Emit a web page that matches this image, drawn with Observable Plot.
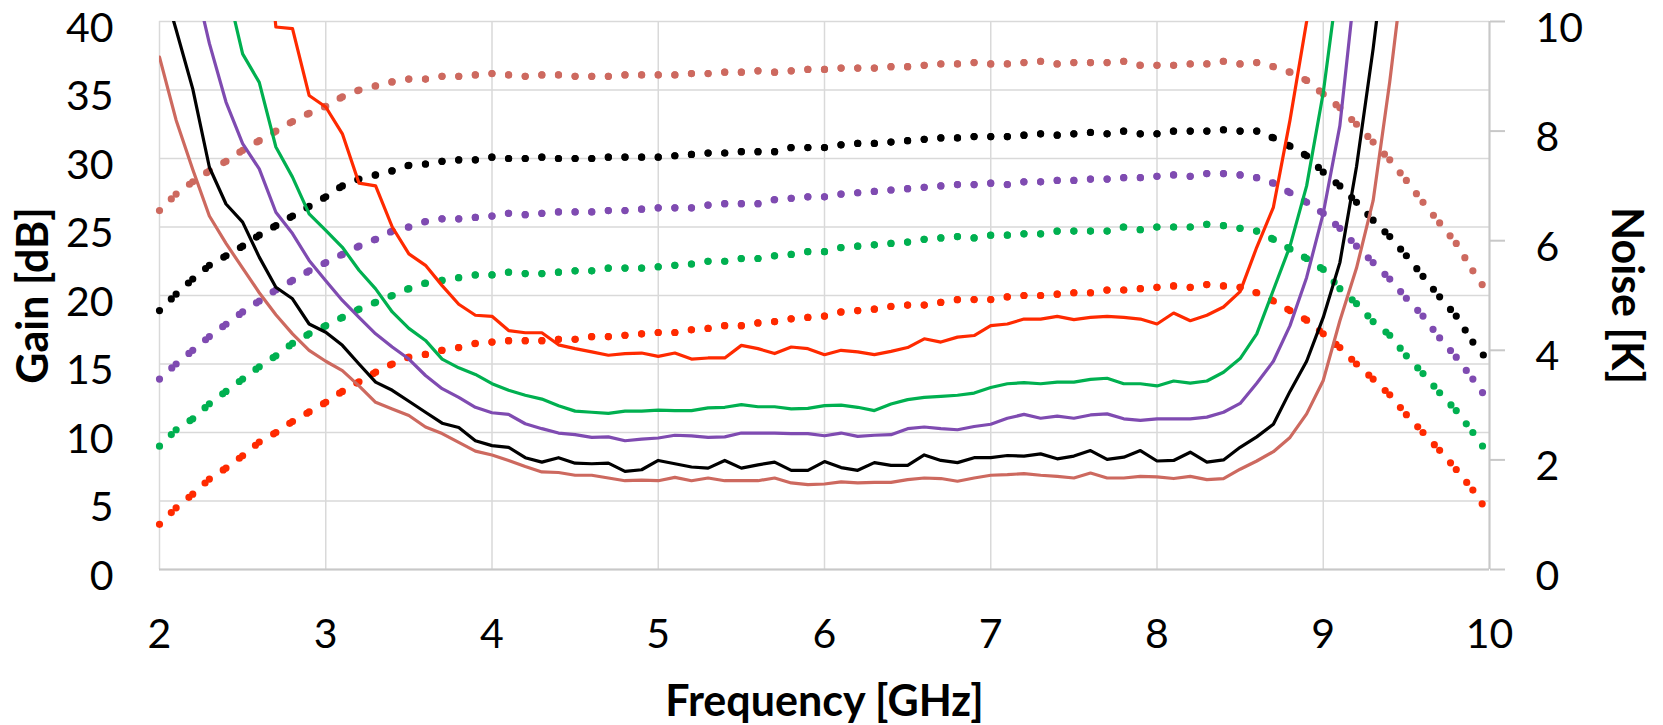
<!DOCTYPE html>
<html>
<head>
<meta charset="utf-8">
<script src="https://cdn.jsdelivr.net/npm/d3@7"></script>
<script src="https://cdn.jsdelivr.net/npm/@observablehq/plot@0.6"></script>
<style>
  html, body { margin: 0; padding: 0; background: #fff; }
  #chart svg { display: block; }
</style>
</head>
<body>
<div id="chart"></div>
<script>
// Frequency sweep, 2–10 GHz in 0.1 GHz steps
const frequencies = d3.range(81).map(i => Math.round((2 + i * 0.1) * 10) / 10);

// Axis ticks
const freqTicks = [2, 3, 4, 5, 6, 7, 8, 9, 10];
const gainTicks = [0, 5, 10, 15, 20, 25, 30, 35, 40];
const noiseTicks = [0, 2, 4, 6, 8, 10];

// Series colours (one per bias setting)
const seriesColors = ["#cd695f", "#000000", "#7f4bb1", "#00b050", "#ff2a00"];

// Gain [dB]
const gainRosy = [
  26.2, 27.4, 28.3, 29.1, 29.8, 30.6, 31.3, 32.0, 32.7, 33.3,
  33.8, 34.5, 35.0, 35.3, 35.6, 35.8, 35.8, 36.0, 36.0, 36.1,
  36.2, 36.1, 36.0, 36.1, 36.1, 36.0, 36.0, 36.0, 36.1, 36.1,
  36.1, 36.1, 36.2, 36.2, 36.3, 36.3, 36.4, 36.3, 36.4, 36.5,
  36.5, 36.6, 36.6, 36.6, 36.7, 36.7, 36.8, 36.9, 36.9, 37.0,
  36.9, 36.9, 37.0, 37.1, 36.9, 37.0, 37.0, 37.0, 37.1, 36.8,
  36.8, 36.8, 36.9, 36.9, 37.1, 36.9, 37.0, 36.7, 36.3, 35.7,
  34.7, 33.7, 32.5, 31.2, 29.9, 28.4, 26.8, 25.3, 23.8, 21.8,
  20.0
];
const gainBlack = [
  18.9, 20.1, 21.2, 22.2, 22.9, 23.6, 24.4, 25.1, 25.8, 26.5,
  27.2, 28.0, 28.5, 28.8, 29.1, 29.5, 29.6, 29.8, 29.9, 29.9,
  30.1, 30.0, 30.0, 30.1, 30.0, 30.0, 30.0, 30.1, 30.1, 30.1,
  30.1, 30.2, 30.3, 30.4, 30.4, 30.5, 30.5, 30.5, 30.8, 30.8,
  30.8, 31.0, 31.1, 31.1, 31.2, 31.3, 31.4, 31.5, 31.5, 31.6,
  31.6, 31.6, 31.7, 31.8, 31.7, 31.8, 31.9, 31.8, 32.0, 31.8,
  31.8, 32.0, 32.0, 32.0, 32.1, 32.0, 32.0, 31.5, 30.9, 30.2,
  29.0, 28.0, 26.8, 25.5, 24.3, 22.9, 21.4, 19.9, 18.5, 16.6,
  15.1
];
const gainPurple = [
  13.9, 15.0, 16.0, 17.0, 17.9, 18.8, 19.6, 20.4, 21.1, 21.8,
  22.4, 23.0, 23.6, 24.1, 24.7, 25.0, 25.4, 25.6, 25.6, 25.7,
  25.8, 26.0, 25.9, 26.0, 26.1, 26.1, 26.1, 26.2, 26.2, 26.3,
  26.4, 26.4, 26.4, 26.6, 26.7, 26.7, 26.7, 27.0, 27.1, 27.2,
  27.2, 27.4, 27.5, 27.6, 27.7, 27.8, 27.9, 28.0, 28.1, 28.1,
  28.2, 28.1, 28.3, 28.3, 28.4, 28.4, 28.5, 28.5, 28.6, 28.6,
  28.7, 28.8, 28.7, 28.9, 28.9, 28.8, 28.6, 28.2, 27.5, 26.8,
  26.0, 24.9, 23.6, 22.4, 21.2, 19.8, 18.5, 16.9, 15.5, 13.9,
  12.2
];
const gainGreen = [
  9.0, 10.2, 11.0, 12.1, 13.0, 13.9, 14.8, 15.6, 16.5, 17.2,
  17.8, 18.4, 19.0, 19.5, 20.0, 20.5, 20.9, 21.1, 21.3, 21.5,
  21.5, 21.7, 21.6, 21.6, 21.7, 21.8, 21.8, 22.0, 22.0, 22.0,
  22.1, 22.2, 22.3, 22.5, 22.5, 22.7, 22.7, 22.9, 23.0, 23.2,
  23.2, 23.5, 23.6, 23.7, 23.8, 23.9, 24.1, 24.2, 24.3, 24.2,
  24.4, 24.4, 24.5, 24.5, 24.7, 24.7, 24.7, 24.7, 25.0, 24.8,
  25.0, 25.0, 25.0, 25.2, 25.1, 24.9, 24.7, 24.1, 23.4, 22.7,
  21.9, 20.5, 19.4, 18.1, 17.1, 15.6, 14.3, 12.9, 11.6, 10.0,
  8.3
];
const gainRed = [
  3.3, 4.5, 5.5, 6.6, 7.4, 8.3, 9.3, 10.0, 10.8, 11.5,
  12.2, 13.0, 13.7, 14.4, 15.0, 15.5, 15.7, 16.0, 16.2, 16.5,
  16.6, 16.7, 16.7, 16.7, 16.8, 16.8, 17.0, 17.0, 17.1, 17.2,
  17.3, 17.3, 17.5, 17.6, 17.8, 17.8, 18.0, 18.1, 18.3, 18.4,
  18.5, 18.8, 18.9, 19.0, 19.2, 19.3, 19.3, 19.5, 19.7, 19.7,
  19.7, 19.9, 20.0, 20.0, 20.1, 20.2, 20.2, 20.4, 20.4, 20.5,
  20.6, 20.7, 20.6, 20.8, 20.7, 20.6, 20.2, 19.6, 18.9, 18.2,
  17.2, 16.2, 15.0, 13.9, 12.75, 11.3, 10.0, 8.7, 7.3, 5.8,
  4.0
];

// Noise temperature [K]; null where the trace is off scale
const noiseRosy = [
  9.35, 8.2, 7.3, 6.45, 5.95, 5.5, 5.05, 4.65, 4.3, 4.0,
  3.8, 3.63, 3.35, 3.05, 2.93, 2.81, 2.6, 2.48, 2.32, 2.16,
  2.09, 1.99, 1.88, 1.78, 1.77, 1.72, 1.72, 1.67, 1.62, 1.63,
  1.62, 1.68, 1.62, 1.67, 1.62, 1.62, 1.62, 1.67, 1.58, 1.55,
  1.56, 1.6, 1.58, 1.59, 1.59, 1.64, 1.67, 1.66, 1.61, 1.67,
  1.72, 1.73, 1.75, 1.72, 1.7, 1.67, 1.76, 1.67, 1.67, 1.7,
  1.69, 1.66, 1.7, 1.64, 1.66, 1.83, 1.98, 2.15, 2.41, 2.84,
  3.45, 4.54, 5.5, 6.73, 8.9, 11.4, null, null, null, null,
  null
];
const noiseBlack = [
  10.9, 9.85, 8.77, 7.34, 6.67, 6.34, 5.7, 5.15, 4.94, 4.48,
  4.33, 4.09, 3.75, 3.42, 3.27, 3.07, 2.87, 2.67, 2.59, 2.35,
  2.26, 2.23, 2.04, 1.96, 2.04, 1.94, 1.93, 1.94, 1.79, 1.82,
  1.99, 1.93, 1.87, 1.85, 1.99, 1.85, 1.91, 1.96, 1.81, 1.81,
  1.97, 1.86, 1.81, 1.95, 1.9, 1.9, 2.09, 1.99, 1.95, 2.04,
  2.04, 2.08, 2.07, 2.11, 2.02, 2.07, 2.17, 2.01, 2.05, 2.17,
  1.98, 1.99, 2.14, 1.96, 2.0, 2.23, 2.42, 2.65, 3.25, 3.8,
  4.6, 5.6, 7.35, 9.5, 12.0, null, null, null, null, null,
  null
];
const noisePurple = [
  null, 12.4, 10.9, 9.6, 8.53, 7.77, 7.31, 6.52, 6.13, 5.64,
  5.27, 4.91, 4.6, 4.3, 4.06, 3.84, 3.54, 3.3, 3.14, 2.96,
  2.86, 2.83, 2.66, 2.57, 2.49, 2.46, 2.41, 2.42, 2.35, 2.38,
  2.4, 2.45, 2.44, 2.41, 2.42, 2.49, 2.49, 2.49, 2.48, 2.48,
  2.44, 2.49, 2.43, 2.45, 2.46, 2.57, 2.6, 2.57, 2.55, 2.61,
  2.65, 2.76, 2.83, 2.76, 2.8, 2.76, 2.82, 2.84, 2.75, 2.72,
  2.75, 2.75, 2.75, 2.78, 2.87, 3.03, 3.4, 3.8, 4.45, 5.33,
  6.5, 8.1, 10.9, null, null, null, null, null, null, null,
  null
];
const noiseGreen = [
  null, null, null, null, 10.7, 9.41, 8.89, 7.71, 7.16, 6.49,
  6.19, 5.88, 5.46, 5.12, 4.7, 4.4, 4.18, 3.84, 3.68, 3.56,
  3.39, 3.27, 3.18, 3.11, 2.99, 2.89, 2.87, 2.85, 2.89, 2.89,
  2.91, 2.9, 2.9, 2.95, 2.96, 3.01, 2.97, 2.97, 2.93, 2.94,
  2.99, 3.0, 2.96, 2.9, 3.02, 3.1, 3.14, 3.16, 3.18, 3.22,
  3.32, 3.39, 3.41, 3.39, 3.42, 3.42, 3.47, 3.49, 3.39, 3.39,
  3.35, 3.44, 3.4, 3.44, 3.6, 3.85, 4.3, 5.1, 5.9, 7.0,
  8.7, 11.0, null, null, null, null, null, null, null, null,
  null
];
const noiseRed = [
  null, null, null, null, null, null, 13.0, 9.9, 9.87, 8.65,
  8.44, 7.95, 7.05, 7.0, 6.25, 5.76, 5.55, 5.18, 4.84, 4.64,
  4.62, 4.36, 4.32, 4.32, 4.1, 4.03, 3.97, 3.91, 3.94, 3.95,
  3.89, 3.95, 3.84, 3.86, 3.86, 4.09, 4.03, 3.94, 4.06, 4.03,
  3.92, 4.0, 3.97, 3.92, 3.98, 4.05, 4.21, 4.15, 4.24, 4.27,
  4.45, 4.48, 4.57, 4.57, 4.62, 4.56, 4.6, 4.62, 4.6, 4.57,
  4.48, 4.68, 4.54, 4.64, 4.79, 5.07, 5.88, 6.61, 8.2, 10.0,
  12.5, null, null, null, null, null, null, null, null, null,
  null
];

const gainSeries = [gainRosy, gainBlack, gainPurple, gainGreen, gainRed];
const noiseSeries = [noiseRosy, noiseBlack, noisePurple, noiseGreen, noiseRed];

// Noise shares the gain scale: 10 K at the top maps to 40 dB
const noiseToGain = gainTicks[gainTicks.length - 1] / noiseTicks[noiseTicks.length - 1];

const FONT = 41;
const TITLE_FONT = 43;

// Gain traces: round dots, the dash pattern restarting on every segment
const gainMarks = gainSeries.map((vals, s) =>
  Plot.link(d3.pairs(frequencies.map((f, i) => ({f, g: vals[i]}))), {
    x1: p => p[0].f, y1: p => p[0].g,
    x2: p => p[1].f, y2: p => p[1].g,
    stroke: seriesColors[s],
    strokeWidth: 7.2,
    strokeLinecap: "round",
    strokeDasharray: "0 16.6"
  })
);

// Noise traces: solid lines on the right-hand scale
const noiseMarks = noiseSeries.map((vals, s) =>
  Plot.line(frequencies.map((f, i) => ({f, k: vals[i]})), {
    x: "f",
    y: d => d.k == null ? NaN : d.k * noiseToGain,
    stroke: seriesColors[s],
    strokeWidth: 3.2,
    strokeLinejoin: "round",
    clip: true
  })
);

const noiseTickPos = noiseTicks.map(t => t * noiseToGain);

const chart = Plot.plot({
  width: 1663,
  height: 725,
  marginLeft: 159,
  marginRight: 174,
  marginTop: 21,
  marginBottom: 156,
  style: {fontFamily: "Lato, sans-serif", color: "black", background: "white", overflow: "visible"},
  x: {domain: [2, 10]},
  y: {domain: [0, 40]},
  marks: [
    Plot.gridX(freqTicks, {stroke: "#d9d9d9", strokeOpacity: 1, strokeWidth: 1.5}),
    Plot.gridY(gainTicks, {stroke: "#d9d9d9", strokeOpacity: 1, strokeWidth: 1.5}),
    Plot.ruleY([0], {stroke: "#c8c8c8", strokeWidth: 2}),
    Plot.ruleX([10], {stroke: "#c8c8c8", strokeWidth: 2}),
    Plot.axisX(freqTicks, {tickSize: 0, tickPadding: 49, fontSize: FONT, tickFormat: d => String(d), label: null}),
    Plot.axisY(gainTicks, {anchor: "left", tickSize: 0, tickPadding: 46, fontSize: FONT, dy: 7, tickFormat: d => String(d), label: null}),
    Plot.axisY(noiseTickPos, {anchor: "right", tickSize: 15, stroke: "#c8c8c8", strokeWidth: 2, tickFormat: () => "", label: null}),
    Plot.axisY(noiseTickPos, {anchor: "right", tickSize: 0, tickPadding: 46, fontSize: FONT, dy: 7, tickFormat: d => String(d / noiseToGain), label: null}),
    ...gainMarks,
    ...noiseMarks,
    Plot.text(["Gain [dB]"], {frameAnchor: "left", rotate: -90, dx: -125, fontSize: TITLE_FONT, fontWeight: "bold", textAnchor: "middle", lineAnchor: "middle", fill: "black"}),
    Plot.text(["Noise [K]"], {frameAnchor: "right", rotate: 90, dx: 136, fontSize: TITLE_FONT, fontWeight: "bold", textAnchor: "middle", lineAnchor: "middle", fill: "black"}),
    Plot.text(["Frequency [GHz]"], {frameAnchor: "bottom", dy: 133, fontSize: TITLE_FONT, fontWeight: "bold", textAnchor: "middle", lineAnchor: "middle", fill: "black"})
  ]
});

document.getElementById("chart").append(chart);
</script>
</body>
</html>
